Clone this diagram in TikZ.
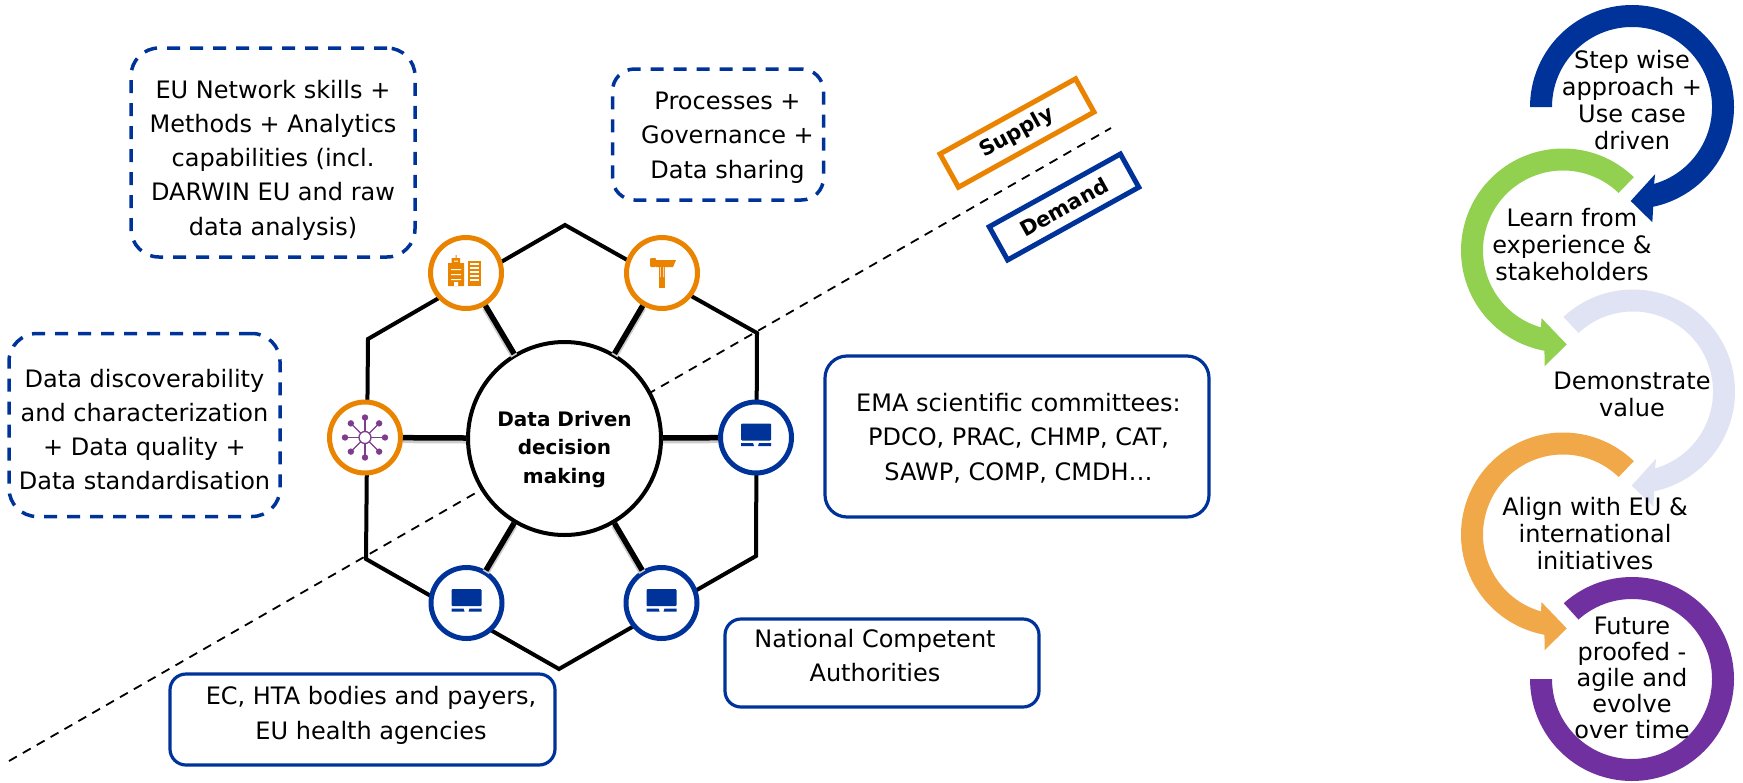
\documentclass[tikz,border=0pt]{standalone}
\usepackage{fontspec}
\setmainfont{DejaVu Sans}
\definecolor{emablue}{HTML}{003399}
\definecolor{emaorange}{HTML}{E98300}
\definecolor{ringgreen}{HTML}{92D050}
\definecolor{ringlilac}{HTML}{E0E3F3}
\definecolor{ringorange}{HTML}{F0A848}
\definecolor{ringpurple}{HTML}{7030A0}
\definecolor{netpurple}{HTML}{7D3C8C}
\tikzset{
  dashbox/.style={shape=rectangle,draw=emablue,line width=3.5pt,dash pattern=on 13pt off 10pt,rounded corners=28pt,inner sep=0pt,outer sep=0pt},
  solidbox/.style={shape=rectangle,draw=emablue,line width=3.2pt,rounded corners=22pt,inner sep=0pt,outer sep=0pt},
  boxtext/.style={align=center,inner sep=0pt,font=\fontsize{24}{34.3}\selectfont},
  ringtext/.style={align=center,inner sep=0pt,font=\fontsize{24}{27}\selectfont},
  tagbox/.style={shape=rectangle,line width=5pt,minimum width=155pt,minimum height=38pt,rotate=29,inner sep=0pt,font=\fontsize{21}{24}\bfseries\selectfont},
  icon/.style={shape=circle,fill=white,line width=5pt,minimum size=71pt,inner sep=0pt,outer sep=2.5pt},
  spoke/.style={line width=5.5pt,preaction={draw=black!20,line width=7pt,transform canvas={yshift=-2pt}}}
}
\newcommand{\ringarrow}[8]{\fill[#1] ([shift={(#3:102)}]#2) arc[start angle=#3,end angle=#5,radius=102]
  -- ([shift={(#7:117)}]#2) -- ([shift={(#8:94)}]#2) -- ([shift={(#6:71)}]#2)
  -- ([shift={(#4:80)}]#2) arc[start angle=#4,end angle=#3,radius=80] -- cycle;}
\newcommand{\screenicon}[1]{\begin{scope}[shift={(#1)}]
  \fill[emablue,rounded corners=1pt] (-15,-14) rectangle (15,3);
  \fill[emablue] (-15,5.5) -- (-3,5.5) -- (-2,8.5) -- (-15,8.5) -- cycle (15,5.5) -- (3,5.5) -- (2,8.5) -- (15,8.5) -- cycle;
\end{scope}}
\begin{document}
\begin{tikzpicture}[x=1pt,y=-1pt]
  \useasboundingbox (0,0) rectangle (1743,782);

  \coordinate(dashA)at(9, 761);
  \coordinate(dashB)at(1111, 128);
  \draw[line width=1.8pt,dash pattern=on 9pt off 7pt](dashA) -- (dashB);

  \coordinate(hexT)at(565, 225);
  \coordinate(hexUR)at(757, 333);
  \coordinate(hexLR)at(756, 556);
  \coordinate(hexB)at(559, 669);
  \coordinate(hexLL)at(366, 559);
  \coordinate(hexUL)at(368, 339);
  \draw[line width=4pt,miter limit=4](hexT) -- (hexUR) -- (hexLR) -- (hexB) -- (hexLL) -- (hexUL) -- cycle;

  \node[icon,draw=emaorange](build)at(466, 273){};
  \node[icon,draw=emaorange](hammer)at(662, 273){};
  \node[icon,draw=emaorange](network)at(365, 437.5){};
  \node[icon,draw=emablue](screenR)at(756, 437.5){};
  \node[icon,draw=emablue](screenBL)at(466.5, 603){};
  \node[icon,draw=emablue](screenBR)at(661.5, 603){};
  \node[shape=circle,draw=black,fill=white,line width=4pt,minimum size=193pt,inner sep=0pt,outer sep=2pt](hub)at(564.5, 438.5){};
  \node[align=center,inner sep=0pt,font=\fontsize{20}{28.5}\bfseries\selectfont](hubText)at(564.5, 449.5){Data Driven\\decision\\making};
  \foreach \n in {build,hammer,network,screenR,screenBL,screenBR}
    \draw[spoke](hub) -- (\n);

  % building icon
  \begin{scope}[shift={(build)}]
    \fill[emaorange] (-10.5,-18) rectangle (-9.5,-15) (-14.5,-15) rectangle (-6,-10) (-18,-10) rectangle (-2,13);
    \fill[emaorange] (1.5,-12) rectangle (15,13);
    \fill[white] (-15,-4) rectangle (-5,-3) (-15,1) rectangle (-5,2) (-15,6) rectangle (-5,7) (-12,-12.5) rectangle (-8,-11.5) (-12,9) rectangle (-8,13);
    \foreach \y in {-10,-6,-2,2,6}
      \fill[white] (4,\y) rectangle (13,\y+1.5);
  \end{scope}
  % hammer icon
  \begin{scope}[shift={(hammer)}]
    \fill[emaorange,rounded corners=1pt] (-12,-15) rectangle (-6,-6);
    \fill[emaorange] (-6,-13) -- (14,-13) -- (11,-6) -- (-6,-6) -- cycle;
    \fill[emaorange] (-3,-6) rectangle (3,15);
    \fill[white] (-2,-6) rectangle (-1.4,4) (1.4,-6) rectangle (2,4);
  \end{scope}
  % network icon
  \begin{scope}[shift={(network)}]
    \foreach \a in {0,45,...,315}{
      \draw[netpurple,line width=1.3pt](\a:6) -- (\a:19);
      \fill[netpurple](\a:20) circle (3.2);
    }
    \draw[netpurple,line width=1.3pt](0,0) circle (6);
  \end{scope}
  \screenicon{screenR}
  \screenicon{screenBL}
  \screenicon{screenBR}

  \node[tagbox,draw=emaorange](supply)at(1017, 133){Supply};
  \node[tagbox,draw=emablue,minimum width=150pt](demand)at(1064, 207){Demand};

  \node[dashbox,minimum width=284pt,minimum height=209pt](boxSkills)at(273, 152.5){};
  \node[boxtext](txtSkills)at(273, 160){EU Network skills +\\Methods + Analytics\\capabilities (incl.\\DARWIN EU and raw\\data analysis)};
  \node[dashbox,minimum width=211pt,minimum height=131pt,rounded corners=22pt](boxProc)at(718, 134.5){};
  \node[boxtext](txtProc)at(727.5, 137.5){Processes +\\Governance +\\Data sharing};
  \node[dashbox,minimum width=271pt,minimum height=183pt](boxData)at(144.5, 425){};
  \node[boxtext](txtData)at(144.5, 429.5){Data discoverability\\and characterization\\+ Data quality +\\Data standardisation};
  \node[solidbox,minimum width=384pt,minimum height=161pt](boxEma)at(1017, 436.5){};
  \node[boxtext](txtEma)at(1018.5, 438){EMA scientific committees:\\PDCO, PRAC, CHMP, CAT,\\SAWP, COMP, CMDH…};
  \node[solidbox,minimum width=314pt,minimum height=88pt,rounded corners=16pt](boxNca)at(882, 663){};
  \node[boxtext](txtNca)at(875, 655.5){National Competent\\Authorities};
  \node[solidbox,minimum width=385pt,minimum height=91pt,rounded corners=16pt](boxEc)at(362.5, 719.5){};
  \node[boxtext](txtEc)at(371, 715.5){EC, HTA bodies and payers,\\EU health agencies};

  \coordinate(ringA)at(1632, 107);
  \coordinate(ringB)at(1563, 250.5);
  \coordinate(ringC)at(1633, 391.5);
  \coordinate(ringD)at(1563, 534.5);
  \coordinate(ringE)at(1632, 679);
  \ringarrow{emablue}{ringA}{180}{434}{438}{71}{80}{90.8}
  \ringarrow{ringgreen}{ringB}{-46}{-254}{-259.5}{107.6}{99}{87.7}
  \ringarrow{ringlilac}{ringC}{-133}{74}{78}{71}{80}{90.8}
  \ringarrow{ringorange}{ringD}{-46}{-254}{-259.5}{107.6}{99}{87.7}
  \fill[ringpurple]([shift={(-132:102)}]ringE) arc[start angle=-132,end angle=180,radius=102]
    -- ([shift={(180:80)}]ringE) arc[start angle=180,end angle=-132,radius=80] -- cycle;

  \node[ringtext](txtA)at(1632, 100.5){Step wise\\approach +\\Use case\\driven};
  \node[ringtext](txtB)at(1572, 245){Learn from\\experience \&\\stakeholders};
  \node[ringtext](txtC)at(1632, 394){Demonstrate\\value};
  \node[ringtext](txtD)at(1595, 534){Align with EU \&\\international\\initiatives};
  \node[ringtext,font=\fontsize{24}{26}\selectfont](txtE)at(1632, 678){Future\\proofed -\\agile and\\evolve\\over time};
\end{tikzpicture}
\end{document}
